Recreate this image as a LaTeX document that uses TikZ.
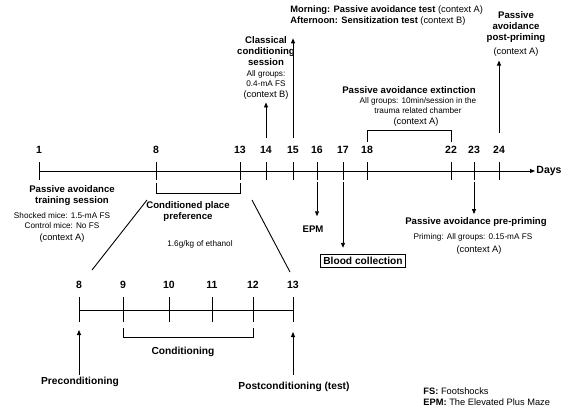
\documentclass[tikz,border=0pt]{standalone}
\usepackage{fontspec}
\setmainfont{Liberation Sans}
\usepackage{tikz}
\usetikzlibrary{arrows.meta,positioning}

\begin{document}
\begin{tikzpicture}[x=1pt,y=-1pt,line width=0.9pt,>={Triangle[length=5pt,width=4pt]},
                    inner sep=0pt,align=center,node distance=2pt]

  \tikzstyle{title}=[font=\bfseries\fontsize{9.6}{11}\selectfont]
  \tikzstyle{small}=[font=\fontsize{8.2}{10}\selectfont]
  \tikzstyle{ctx}=[font=\fontsize{9.3}{11}\selectfont]
  \tikzstyle{day}=[font=\bfseries\fontsize{10.5}{12}\selectfont]
  \tikzstyle{big}=[font=\bfseries\fontsize{10.2}{12}\selectfont]

  \useasboundingbox (0,0) rectangle (566,416);

  % main time line
  \coordinate (start) at (39,171);
  \coordinate (end) at (535,171);
  \draw[->] (start) -- (end);
  \node (days) [day, right=1pt of end] {Days};
  \foreach \d/\x in {1/39,8/156,13/240,14/266,15/293,16/317,17/343,18/367,22/451,23/474,24/499}{
    \coordinate (t\d) at (\x,162);
    \coordinate (b\d) at (\x,180);
    \draw (t\d) -- (b\d);
    \node (d\d) [day] at (\x,150) {\d};
  }

  % above the line
  \node (cls) [title] at (266,51) {Classical\\conditioning\\session};
  \node (clsgrp) [small, below=4pt of cls] {All groups:\\0.4-mA FS};
  \node (clsctx) [ctx, below=3pt of clsgrp] {(context B)};
  \draw[->,shorten <=8pt,shorten >=3pt] (d14.north) -- (clsctx.south);

  \node (test) [ctx, anchor=west, align=left] at (290,16)
    {\textbf{Morning: Passive avoidance test} (context A)\\
     \textbf{Afternoon: Sensitization test} (context B)};
  \draw[->,shorten <=8pt,shorten >=12pt] (d15.north) -- (d15.north |- test.south);

  \node (post) [title] at (516,27) {Passive\\avoidance\\post-priming};
  \node (postctx) [ctx, below=4pt of post] {(context A)};
  \draw[->,shorten <=13pt,shorten >=4pt] (d24.north) -- (d24.north |- postctx.south);

  \node (ext) [title] at (409,90) {Passive avoidance extinction};
  \node (extgrp) [small, below=3pt of ext, xshift=9pt] {All groups: 10min/session in the\\trauma related chamber};
  \node (extctx) [ctx, below=3pt of extgrp, xshift=-2pt] {(context A)};
  \draw ([yshift=4pt]d18.north) -- ++(0,-11) -| ([yshift=4pt]d22.north);

  % below the line
  \node (train) [title] at (72,196) {Passive avoidance\\training session};
  \node (traingrp) [small, below=6pt of train, xshift=-10pt] {Shocked mice: 1.5-mA FS\\Control mice: No FS};
  \node (trainctx) [ctx, below=4pt of traingrp] {(context A)};

  \draw (b8) ++(0,3) -- ++(0,10) -| ([yshift=-3pt]b13);
  \node (cpp) [title] at (188,212) {Conditioned place\\preference};
  \node (cppdose) [small, below=18pt of cpp, xshift=12pt] {1.6g/kg of ethanol};

  \node (epm) [title] at (313,229) {EPM};
  \draw[->,shorten <=2pt,shorten >=9pt] (b16) -- (b16 |- epm.north);

  \node (blood) [big, draw, inner xsep=2.5pt, inner ysep=3pt] at (363,261) {Blood collection};
  \draw[->,shorten <=2pt,shorten >=6pt] (b17) -- (b17 |- blood.north);

  \node (pre) [title] at (476,222) {Passive avoidance pre-priming};
  \node (pregrp) [small, below=6pt of pre, xshift=-3pt] {Priming: All groups: 0.15-mA FS};
  \node (prectx) [ctx, below=4pt of pregrp, xshift=6pt] {(context A)};
  \draw[->,shorten <=2pt,shorten >=3pt] (b23) -- (b23 |- pre.north);

  % zoom into conditioned place preference
  \coordinate (zl1) at (147,200);
  \coordinate (zl2) at (92,270);
  \coordinate (zr1) at (252,200);
  \coordinate (zr2) at (290,272);
  \draw (zl1) -- (zl2);
  \draw (zr1) -- (zr2);

  \coordinate (lstart) at (79,310);
  \coordinate (lend) at (293,310);
  \draw (lstart) -- (lend);
  \foreach \d/\x in {8/79,9/123,10/169,11/212,12/253,13/293}{
    \coordinate (lt\d) at (\x,297);
    \coordinate (lb\d) at (\x,322);
    \draw (lt\d) -- (lb\d);
    \node (ld\d) [day] at (\x,285) {\d};
  }
  \draw (lb9) ++(0,6) -- ++(0,9) -| ([yshift=-6pt]lb12);
  \node (cond) [big] at (183,352) {Conditioning};

  \node (precond) [big] at (80,382) {Preconditioning};
  \draw[->,shorten <=2pt,shorten >=8pt] (lb8 |- precond.north) -- (lb8);
  \node (postcond) [big] at (294,387) {Postconditioning (test)};
  \draw[->,shorten <=7pt,shorten >=10pt] (lb13 |- postcond.north) -- (lb13);

  % legend
  \node (legend) [ctx, anchor=north west, align=left] at (423,387)
    {\textbf{FS:} Footshocks\\\textbf{EPM:} The Elevated Plus Maze};

\end{tikzpicture}
\end{document}
